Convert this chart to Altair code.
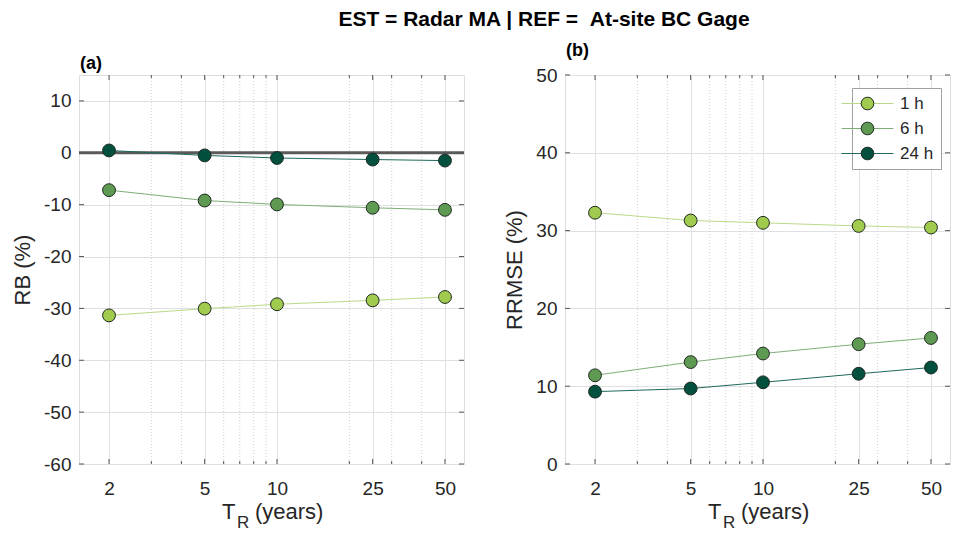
import altair as alt
import pandas as pd

# ---------------- data ----------------
TR = [2, 5, 10, 25, 50]
durations = ["1 h", "6 h", "24 h"]

rb_1h = [-31.35, -30.05, -29.2, -28.45, -27.8]
rb_6h = [-7.2, -9.2, -9.95, -10.6, -11.0]
rb_24h = [0.45, -0.5, -1.0, -1.3, -1.5]

rrmse_1h = [32.3, 31.3, 31.0, 30.6, 30.4]
rrmse_6h = [11.4, 13.1, 14.2, 15.4, 16.2]
rrmse_24h = [9.3, 9.7, 10.5, 11.6, 12.4]

major_x = [2, 5, 10, 25, 50]
minor_x = [3, 4, 6, 7, 8, 9, 20, 30, 40]
x_domain = [1.5, 60]

rb_ticks = [10, 0, -10, -20, -30, -40, -50, -60]
rb_domain = [-60, 15]
rrmse_ticks = [0, 10, 20, 30, 40, 50]
rrmse_domain = [0, 50]

zero_ref = [0]

suptitle = "EST = Radar MA | REF = \u00a0At-site BC Gage"
panel_labels = ["(a)", "(b)"]
y_titles = ["RB (%)", "RRMSE (%)"]

# ---------------- styling ----------------
fill_colors = ["#a0cb4e", "#5f9a52", "#03503f"]
line_colors = ["#bcd98a", "#7fae78", "#1d6a5c"]
marker_edge = "#1f2a22"
FONT = "Liberation Sans"
TXT = "#262626"
W, H = 385, 389


def long_df(series_list):
    rows = []
    for d, vals in zip(durations, series_list):
        for t, v in zip(TR, vals):
            rows.append({"TR": t, "val": v, "dur": d, "dur2": d})
    return pd.DataFrame(rows)


def panel(df, y_title, y_domain, y_ticks, label, label_y, show_legend, zero=False, with_title=False):
    xs = alt.Scale(type="log", domain=x_domain, nice=False)
    ys = alt.Scale(domain=y_domain, nice=False, zero=False)
    x_axis = alt.Axis(values=major_x, format="d", title=None, grid=True, gridColor="#e0e0e0",
                      ticks=False, domain=False, labelFontSize=19, labelPadding=15,
                      labelColor=TXT, labelFont=FONT, labelFlush=False)
    y_axis = alt.Axis(values=y_ticks, format="d", labelExpr="replace(datum.label, '\u2212', '-')",
                      title=y_title, titleFontSize=22,
                      titleFontWeight="normal", titleFont=FONT, titleColor=TXT, titlePadding=9,
                      grid=True, gridColor="#e0e0e0", ticks=False, domain=False,
                      labelFontSize=19, labelPadding=8, labelColor=TXT, labelFont=FONT)

    def X(f="TR"):
        return alt.X(f"{f}:Q", scale=xs, axis=x_axis)

    def Y(f="val"):
        return alt.Y(f"{f}:Q", scale=ys, axis=y_axis)

    layers = []
    minor_df = pd.DataFrame({"TR": minor_x})
    major_df = pd.DataFrame({"TR": major_x})
    ytick_df = pd.DataFrame({"val": y_ticks})

    layers.append(alt.Chart(minor_df).mark_rule(color="#cfcfcf", strokeDash=[1, 2], strokeWidth=1)
                  .encode(x=X()))
    if zero:
        layers.append(alt.Chart(pd.DataFrame({"val": zero_ref}))
                      .mark_rule(color="#5a5a5a", strokeWidth=3).encode(y=Y()))
    tick_col = "#555555"
    layers.append(alt.Chart(major_df).mark_rule(color=tick_col, strokeWidth=1)
                  .encode(x=X(), y=alt.value(H), y2=alt.value(H - 5)))
    layers.append(alt.Chart(major_df).mark_rule(color=tick_col, strokeWidth=1)
                  .encode(x=X(), y=alt.value(0), y2=alt.value(5)))
    layers.append(alt.Chart(minor_df).mark_rule(color=tick_col, strokeWidth=1)
                  .encode(x=X(), y=alt.value(H), y2=alt.value(H - 3)))
    layers.append(alt.Chart(minor_df).mark_rule(color=tick_col, strokeWidth=1)
                  .encode(x=X(), y=alt.value(0), y2=alt.value(3)))
    layers.append(alt.Chart(ytick_df).mark_rule(color=tick_col, strokeWidth=1)
                  .encode(y=Y(), x=alt.value(0), x2=alt.value(5)))
    layers.append(alt.Chart(ytick_df).mark_rule(color=tick_col, strokeWidth=1)
                  .encode(y=Y(), x=alt.value(W), x2=alt.value(W - 5)))

    if show_legend:
        lx, ly = 287, 13
        line_leg = alt.Legend(orient="none", legendX=lx, legendY=ly, title=None,
                              symbolType="M-4.1,0L4.1,0", symbolSize=160, symbolStrokeWidth=1,
                              labelFontSize=17, labelFont=FONT, labelColor=TXT, labelOffset=24,
                              rowPadding=7, padding=7, fillColor="white",
                              strokeColor="#a0a0a0", labelLimit=200)
        fill_leg = alt.Legend(orient="none", legendX=lx, legendY=ly, title=None,
                              symbolType="circle", symbolSize=160, symbolStrokeColor=marker_edge,
                              symbolStrokeWidth=1, symbolOpacity=1,
                              labelFontSize=17, labelFont=FONT, labelColor=TXT, labelOffset=24,
                              labelOpacity=0, rowPadding=7, padding=7, labelLimit=200)
    else:
        line_leg = None
        fill_leg = None

    layers.append(alt.Chart(df).mark_line(strokeWidth=1).encode(
        x=X(), y=Y(),
        color=alt.Color("dur:N", scale=alt.Scale(domain=durations, range=line_colors),
                        legend=line_leg)))
    layers.append(alt.Chart(df).mark_circle(size=165, stroke=marker_edge, strokeWidth=1, opacity=1).encode(
        x=X(), y=Y(),
        fill=alt.Fill("dur2:N", sort=durations, scale=alt.Scale(range=fill_colors),
                      legend=fill_leg)))

    layers.append(alt.Chart(pd.DataFrame({"t": [label]})).mark_text(
        align="left", baseline="middle", fontSize=18, fontWeight="bold", font=FONT, color="#000000")
        .encode(text="t:N", x=alt.value(1), y=alt.value(label_y)))

    # x-axis title with subscript
    layers.append(alt.Chart(pd.DataFrame({"t": ["T"]})).mark_text(
        align="left", baseline="alphabetic", fontSize=22, font=FONT, color=TXT)
        .encode(text="t:N", x=alt.value(143), y=alt.value(H + 55)))
    layers.append(alt.Chart(pd.DataFrame({"t": ["R"]})).mark_text(
        align="left", baseline="alphabetic", fontSize=17, font=FONT, color=TXT)
        .encode(text="t:N", x=alt.value(158), y=alt.value(H + 64)))
    layers.append(alt.Chart(pd.DataFrame({"t": ["(years)"]})).mark_text(
        align="left", baseline="alphabetic", fontSize=22, font=FONT, color=TXT)
        .encode(text="t:N", x=alt.value(176), y=alt.value(H + 55)))

    if with_title:
        layers.append(alt.Chart(pd.DataFrame({"t": [suptitle]})).mark_text(
            align="center", baseline="middle", fontSize=21, fontWeight="bold", font=FONT, color="#000000")
            .encode(text="t:N", x=alt.value(465), y=alt.value(-55)))

    return alt.layer(*layers).properties(width=W, height=H).resolve_scale(color="independent", fill="independent")


pa = panel(long_df([rb_1h, rb_6h, rb_24h]), y_titles[0], rb_domain, rb_ticks,
           panel_labels[0], -11, False, zero=True, with_title=True)
pb = panel(long_df([rrmse_1h, rrmse_6h, rrmse_24h]), y_titles[1], rrmse_domain, rrmse_ticks,
           panel_labels[1], -24, True)

chart = alt.hconcat(pa, pb, spacing=101, bounds="flush").resolve_scale(
    color="independent", fill="independent").properties(
    padding={"left": 3, "top": 0, "right": 2, "bottom": 2}
).configure_view(stroke="#7a7a7a", strokeWidth=1).configure(background="white")

chart.save("out.html", embed_options={"renderer": "svg", "actions": False})
